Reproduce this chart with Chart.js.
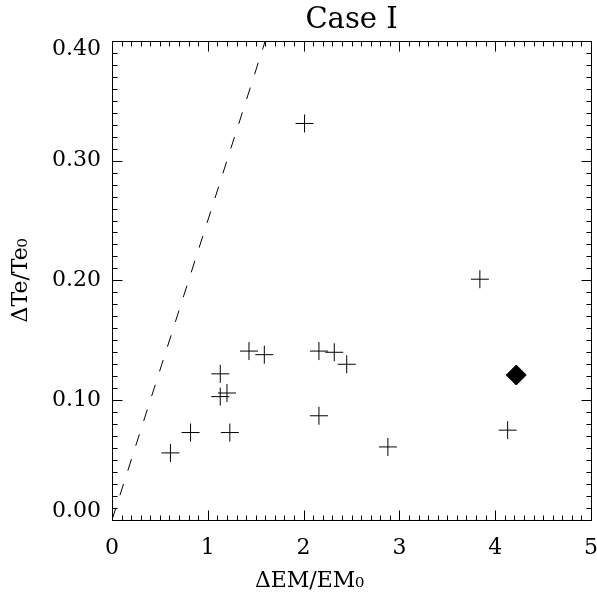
<!DOCTYPE html>
<html>
<head>
<meta charset="utf-8">
<script src="https://cdn.jsdelivr.net/npm/chart.js@4.4.1/dist/chart.umd.min.js"></script>
<style>
  body { margin: 0; background: #fff; }
  canvas { display: block; }
</style>
</head>
<body>
<canvas id="caseChart" width="597" height="597"></canvas>
<script>
// crosses: ΔEM/EM0 vs ΔTe/Te0
const emRatio = [0.61, 0.82, 1.13, 1.13, 1.20, 1.23, 1.43, 1.59, 2.01, 2.16, 2.32, 2.45, 2.16, 2.88, 3.84, 4.13];
const teRatio = [0.056, 0.073, 0.122, 0.103, 0.106, 0.073, 0.141, 0.138, 0.331, 0.141, 0.140, 0.130, 0.087, 0.061, 0.201, 0.075];

// the single filled diamond
const diamondEm = [4.22];
const diamondTe = [0.121];

// dashed reference line
const lineEm = [0, 1.6];
const lineTe = [0, 0.4];

const xTicks = [0, 1, 2, 3, 4, 5];
const yTicks = [0.0, 0.1, 0.2, 0.3, 0.4];

const serif = "'DejaVu Serif', serif";

function toPoints(xs, ys) {
  return xs.map((x, i) => ({ x: x, y: ys[i] }));
}

// box with inward major/minor ticks on all four sides
const frame = {
  id: "frame",
  afterDraw(chart) {
    const { ctx, chartArea: a, scales } = chart;
    const x = scales.x, y = scales.y;
    const L = Math.round(a.left) + 0.5, R = Math.round(a.right) + 0.5;
    const T = Math.round(a.top) + 0.5, B = Math.round(a.bottom) + 0.5;
    ctx.save();
    ctx.strokeStyle = "#000";
    ctx.lineWidth = 1;
    ctx.beginPath();
    ctx.rect(L, T, R - L, B - T);

    const nx = Math.round((x.max - x.min) / 0.1);
    for (let i = 0; i <= nx; i++) {
      const px = Math.round(x.getPixelForValue(x.min + i * 0.1)) + 0.5;
      const len = i % 10 === 0 ? 10 : 5;
      ctx.moveTo(px, B); ctx.lineTo(px, B - len);
      ctx.moveTo(px, T); ctx.lineTo(px, T + len);
    }
    const ny = Math.round((y.max - y.min) / 0.01);
    for (let i = 0; i <= ny; i++) {
      const py = Math.round(y.getPixelForValue(y.min + i * 0.01)) + 0.5;
      const len = i % 10 === 0 ? 10 : 5;
      ctx.moveTo(L, py); ctx.lineTo(L + len, py);
      ctx.moveTo(R, py); ctx.lineTo(R - len, py);
    }
    ctx.stroke();
    ctx.restore();
  }
};

new Chart(document.getElementById("caseChart"), {
  type: "scatter",
  data: {
    datasets: [
      {
        data: toPoints(emRatio, teRatio),
        pointStyle: "cross",
        pointRadius: 9,
        borderColor: "#000",
        borderWidth: 1
      },
      {
        data: toPoints(diamondEm, diamondTe),
        pointStyle: "rectRot",
        pointRadius: 10,
        backgroundColor: "#000",
        borderColor: "#000",
        borderWidth: 1
      },
      {
        data: toPoints(lineEm, lineTe),
        showLine: true,
        pointRadius: 0,
        borderColor: "#000",
        borderWidth: 1,
        borderDash: [12, 14]
      }
    ]
  },
  options: {
    responsive: false,
    animation: false,
    layout: { autoPadding: false, padding: { left: 0, right: 6, top: 0, bottom: 0 } },
    plugins: {
      legend: { display: false },
      tooltip: { enabled: false },
      title: {
        display: true,
        fullSize: false,
        text: "Case I",
        color: "#000",
        font: { family: serif, size: 29, weight: "normal" },
        padding: { top: 3, bottom: 3 }
      }
    },
    scales: {
      x: {
        type: "linear",
        min: xTicks[0],
        max: xTicks[xTicks.length - 1],
        afterFit: s => { s.height = 77; s.paddingLeft = 0; s.paddingRight = 0; },
        afterBuildTicks: s => { s.ticks = xTicks.map(v => ({ value: v })); },
        grid: { display: false, drawTicks: false },
        border: { display: false },
        ticks: {
          color: "#000",
          padding: 15,
          font: { family: serif, size: 22 },
          callback: v => String(v)
        },
        title: {
          display: true,
          text: "ΔEM/EM₀            ",
          color: "#000",
          font: { family: serif, size: 22 },
          padding: { top: 0, bottom: 3 }
        }
      },
      y: {
        type: "linear",
        min: yTicks[0],
        max: yTicks[yTicks.length - 1],
        afterFit: s => { s.width = 112; s.paddingTop = 0; s.paddingBottom = 0; },
        afterBuildTicks: s => { s.ticks = yTicks.map(v => ({ value: v })); },
        grid: { display: false, drawTicks: false },
        border: { display: false },
        ticks: {
          color: "#000",
          padding: 11,
          font: { family: serif, size: 22, lineHeight: 0.8 },
          callback: (v, i, t) => {
            const s = v.toFixed(2);
            if (i === 0) return [s, ""];
            if (i === t.length - 1) return ["", s];
            return s;
          }
        },
        title: {
          display: true,
          text: "ΔTe/Te₀",
          color: "#000",
          font: { family: serif, size: 22 },
          padding: { top: 8, bottom: 0 }
        }
      }
    }
  },
  plugins: [frame]
});
</script>
</body>
</html>
